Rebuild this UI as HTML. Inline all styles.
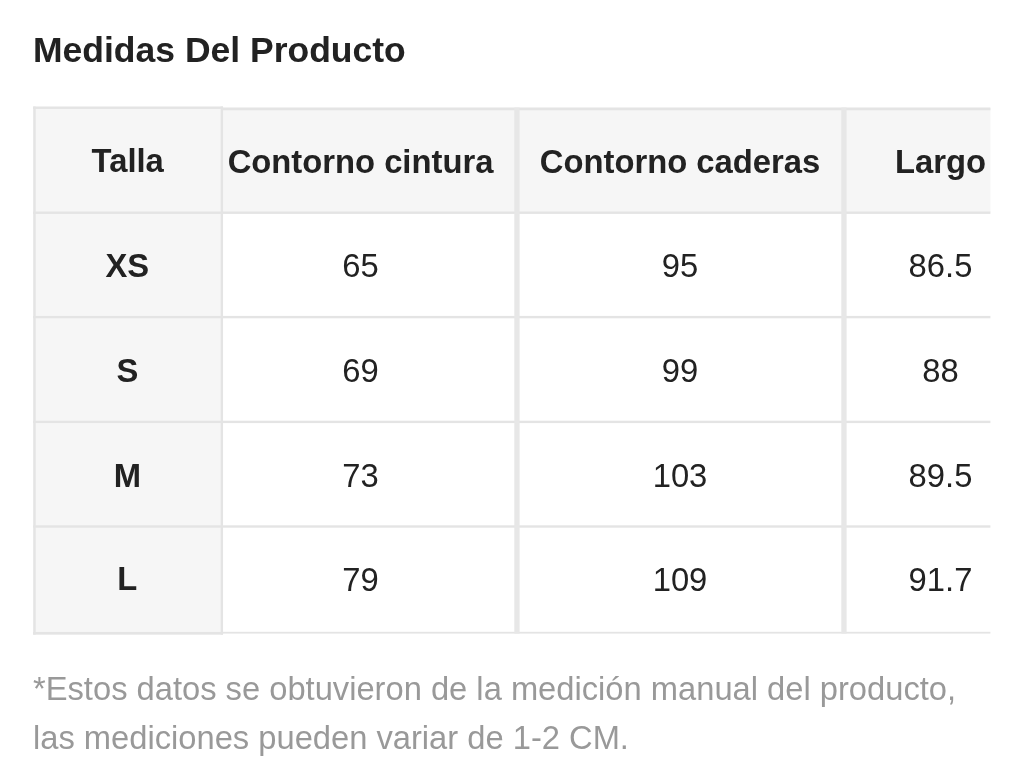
<!DOCTYPE html>
<html lang="es">
<head>
<meta charset="utf-8">
<title>Medidas Del Producto</title>
<style>
html,body{margin:0;padding:0;background:#fff;}
body{width:1024px;height:779px;overflow:hidden;position:relative;font-family:"Liberation Sans",Arial,Helvetica,sans-serif;color:#222;}
.title{position:absolute;left:33px;top:29.5px;font-size:35.5px;line-height:40px;font-weight:bold;color:#222;white-space:nowrap;margin:0;}
.grid{position:absolute;left:0;top:0;width:1024px;height:779px;display:block;}
.table{position:absolute;left:0;top:0;width:990.4px;height:640px;overflow:hidden;}
.c{position:absolute;width:330.0px;height:40.0px;line-height:40.0px;font-size:32.77px;text-align:center;white-space:nowrap;color:#222;}
.th{font-weight:bold;}
.td{font-weight:normal;}
.num{transform:scaleY(1.035);transform-origin:50% 31.35px;}
.cap{transform:scaleY(1.03);transform-origin:50% 31.35px;}
.note{position:absolute;left:33px;top:0;font-size:32.7px;line-height:40.0px;color:#999;white-space:nowrap;margin:0;}
.note span{position:absolute;left:0;display:block;height:40.0px;}
</style>
</head>
<body>
<h2 class="title">Medidas Del Producto</h2>
<svg class="grid" aria-hidden="true" width="1024" height="779" viewBox="0 0 1024 779" shape-rendering="geometricPrecision">
<rect x="33.00" y="108.00" width="957.40" height="104.70" fill="#f6f6f6"/>
<rect x="33.00" y="107.00" width="189.00" height="526.50" fill="#f6f6f6"/>
<rect x="221.85" y="107.50" width="768.55" height="2.80" fill="#e4e4e4"/>
<rect x="33.00" y="211.50" width="957.40" height="2.40" fill="#e4e4e4"/>
<rect x="33.00" y="315.90" width="957.40" height="2.40" fill="#e4e4e4"/>
<rect x="33.00" y="420.70" width="957.40" height="2.40" fill="#e4e4e4"/>
<rect x="33.00" y="525.30" width="957.40" height="2.40" fill="#e4e4e4"/>
<rect x="221.85" y="631.80" width="768.55" height="1.80" fill="#e4e4e4"/>
<rect x="33.00" y="106.50" width="190.05" height="2.40" fill="#e4e4e4"/>
<rect x="33.00" y="631.95" width="190.05" height="2.70" fill="#e4e4e4"/>
<rect x="33.30" y="106.50" width="2.40" height="528.15" fill="#e4e4e4"/>
<rect x="220.65" y="106.50" width="2.40" height="528.15" fill="#e4e4e4"/>
<rect x="514.30" y="107.60" width="5.30" height="526.00" fill="#e7e7e7"/>
<rect x="841.30" y="107.60" width="5.30" height="526.00" fill="#e7e7e7"/>
</svg>
<div class="table" role="table" aria-label="Medidas Del Producto">
<div class="tr" role="row">
<div class="c th" role="columnheader" style="left:-37.30px;top:140.85px">Talla</div>
<div class="c th" role="columnheader" style="left:195.50px;top:141.65px">Contorno cintura</div>
<div class="c th" role="columnheader" style="left:515.00px;top:141.65px">Contorno caderas</div>
<div class="c th" role="columnheader" style="left:775.50px;top:141.65px">Largo</div>
</div>
<div class="tr" role="row">
<div class="c th cap" role="rowheader" style="left:-37.70px;top:245.95px">XS</div>
<div class="c td num" role="cell" style="left:195.50px;top:246.15px">65</div>
<div class="c td num" role="cell" style="left:515.00px;top:246.15px">95</div>
<div class="c td num" role="cell" style="left:775.50px;top:246.15px">86.5</div>
</div>
<div class="tr" role="row">
<div class="c th cap" role="rowheader" style="left:-37.70px;top:350.85px">S</div>
<div class="c td num" role="cell" style="left:195.50px;top:351.05px">69</div>
<div class="c td num" role="cell" style="left:515.00px;top:351.05px">99</div>
<div class="c td num" role="cell" style="left:775.50px;top:351.05px">88</div>
</div>
<div class="tr" role="row">
<div class="c th cap" role="rowheader" style="left:-37.70px;top:455.75px">M</div>
<div class="c td num" role="cell" style="left:195.50px;top:455.95px">73</div>
<div class="c td num" role="cell" style="left:515.00px;top:455.95px">103</div>
<div class="c td num" role="cell" style="left:775.50px;top:455.95px">89.5</div>
</div>
<div class="tr" role="row">
<div class="c th cap" role="rowheader" style="left:-37.70px;top:558.95px">L</div>
<div class="c td num" role="cell" style="left:195.50px;top:559.95px">79</div>
<div class="c td num" role="cell" style="left:515.00px;top:559.95px">109</div>
<div class="c td num" role="cell" style="left:775.50px;top:559.95px">91.7</div>
</div>
</div>
<p class="note"><span style="top:669.05px">*Estos datos se obtuvieron de la medición manual del producto,</span> <span style="top:717.65px">las mediciones pueden variar de 1-2 CM.</span></p>
</body>
</html>
